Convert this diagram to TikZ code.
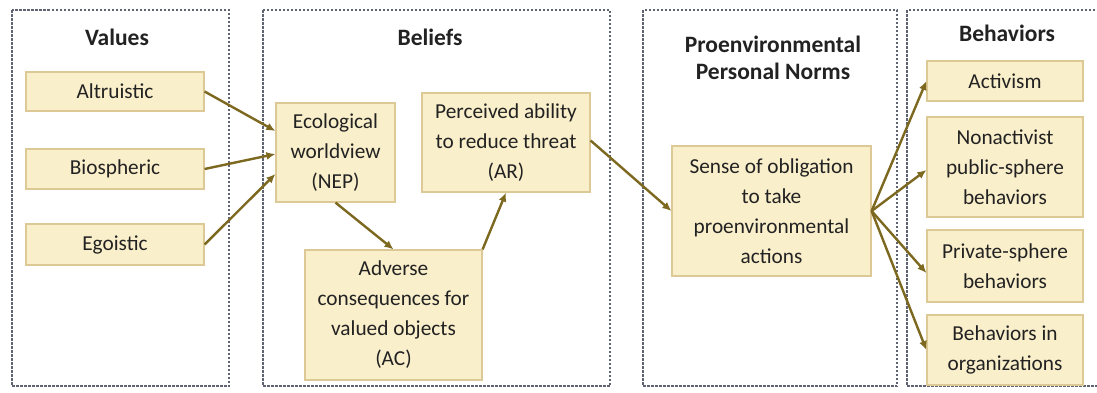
\documentclass[tikz,border=0pt]{standalone}
\usepackage{fontspec}
\setmainfont{Carlito}
\usetikzlibrary{arrows.meta}
\definecolor{boxfill}{HTML}{FAEFCB}
\definecolor{boxline}{HTML}{DCC995}
\definecolor{arrowc}{HTML}{7D6820}
\definecolor{panelc}{HTML}{5F6372}
\definecolor{txt}{HTML}{222222}
\tikzset{
  panel/.style={draw=panelc, line width=1.4pt, dash pattern=on 2.5pt off 1.5pt},
  ybox/.style={draw=boxline, fill=boxfill, line width=1.2pt, align=center, text=txt,
    font=\fontsize{21.3}{30}\selectfont, inner sep=0pt},
  ttl/.style={align=center, text=txt, font=\fontsize{23.5}{27}\selectfont\bfseries},
  conn/.style={draw=arrowc, line width=2.4pt, -{Latex[length=9pt,width=8pt]}},
}
\begin{document}
\begin{tikzpicture}[x=1pt,y=-1pt]
\useasboundingbox (0,0) rectangle (1097,392);
\fill[white] (0,0) rectangle (1097,392);
% panels
\draw[panel] (12,10) rectangle (229,386);
\draw[panel] (263,10) rectangle (610,386);
\draw[panel] (643,10) rectangle (897,386);
\draw[panel] (907,10) rectangle (1115,386);
% titles
\node[ttl] (tval) at (117,37) {Values};
\node[ttl] (tbel) at (430,37) {Beliefs};
\node[ttl] (tnor) at (773,58) {Proenvironmental\\Personal Norms};
\node[ttl] (tbeh) at (1007,33) {Behaviors};
% values
\node[ybox, minimum width=178pt, minimum height=39pt] (alt) at (115,91.5) {Altruistic};
\node[ybox, minimum width=178pt, minimum height=40pt] (bio) at (115,169) {Biospheric};
\node[ybox, minimum width=178pt, minimum height=41pt] (ego) at (115,244.5) {Egoistic};
% beliefs
\node[ybox, minimum width=119pt, minimum height=99pt] (eco) at (335.5,152.5) {Ecological\\worldview\\(NEP)};
\node[ybox, minimum width=168pt, minimum height=99pt] (per) at (506,142.5) {Perceived ability\\to reduce threat\\(AR)};
\node[ybox, minimum width=177pt, minimum height=130pt] (adv) at (393.5,315) {Adverse\\consequences for\\valued objects\\(AC)};
% norms
\node[ybox, minimum width=199pt, minimum height=130pt] (sen) at (771.5,211) {Sense of obligation\\to take\\proenvironmental\\actions};
% behaviors
\node[ybox, minimum width=156pt, minimum height=40pt] (act) at (1005,81) {Activism};
\node[ybox, minimum width=156pt, minimum height=100pt] (non) at (1005,167) {Nonactivist\\public-sphere\\behaviors};
\node[ybox, minimum width=156pt, minimum height=72pt] (pri) at (1005,266) {Private-sphere\\behaviors};
\node[ybox, minimum width=156pt, minimum height=70pt] (org) at (1005,350) {Behaviors in\\organizations};
% connectors
\draw[conn] (alt.east) -- ([yshift=21.5pt]eco.west);
\draw[conn] (bio.east) -- ([yshift=-1.5pt]eco.west);
\draw[conn] (ego.east) -- ([yshift=-21.5pt]eco.west);
\draw[conn] (eco.south) -- (adv.north);
\draw[conn] (adv.north east) -- (per.south);
\draw[conn] ([yshift=2pt]per.east) -- (sen.west);
\draw[conn] (sen.east) -- (act.west);
\draw[conn] (sen.east) -- ([yshift=-3pt]non.west);
\draw[conn] (sen.east) -- ([yshift=-7pt]pri.west);
\draw[conn] (sen.east) -- (org.west);
\end{tikzpicture}
\end{document}
